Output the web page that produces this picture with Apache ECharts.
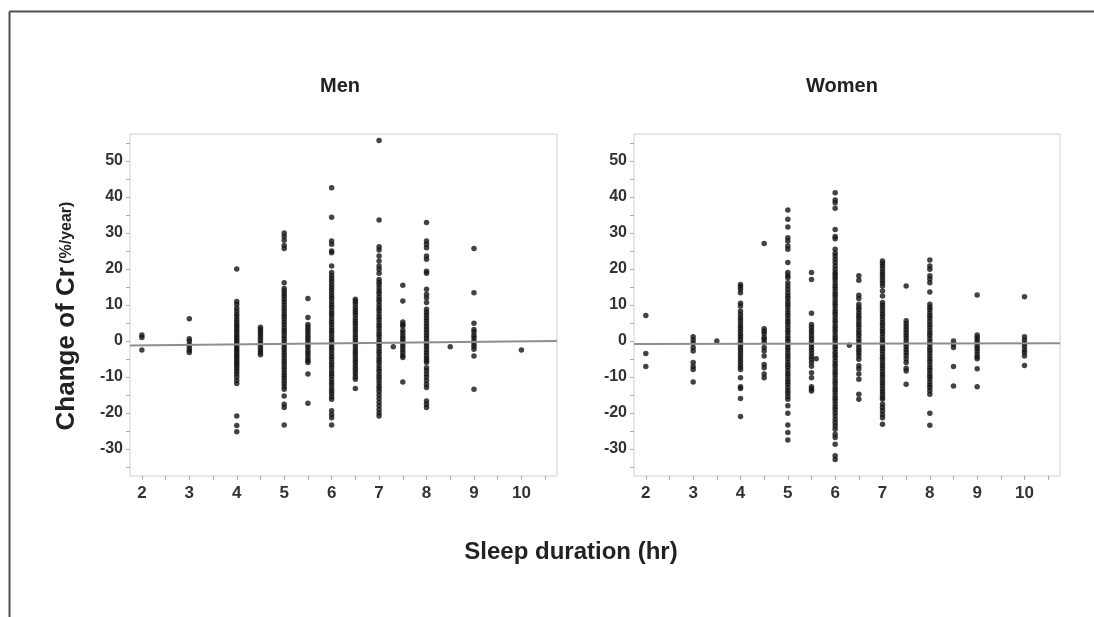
<!DOCTYPE html>
<html>
<head>
<meta charset="utf-8">
<script src="https://cdn.jsdelivr.net/npm/echarts@6/dist/echarts.min.js"></script>
<style>
html, body { margin: 0; padding: 0; background: #fff; }
#chart { width: 1094px; height: 617px; }
</style>
</head>
<body>
<div id="chart"></div>
<script>
// tick labels
let xLabelValues = [2, 3, 4, 5, 6, 7, 8, 9, 10];
let xTickValues = [2, 2.5, 3, 3.5, 4, 4.5, 5, 5.5, 6, 6.5, 7, 7.5, 8, 8.5, 9, 9.5, 10, 10.5];
let yLabelValues = [-30, -20, -10, 0, 10, 20, 30, 40, 50];
let yTickValues = [-35, -30, -25, -20, -15, -10, -5, 0, 5, 10, 15, 20, 25, 30, 35, 40, 45, 50, 55];

// Men: sleep hours and the Cr changes read in each column
let menHours = [2, 3, 4, 4.5, 5, 5.5, 6, 6.5, 7, 7.3, 7.5, 8, 8.5, 9, 10];
let menChange = [
    [1.7, 1.0, -2.5],
    [6.2, 0.6, 0, -1, -1.8, -2.6, -3.2],
    [20, 11, 10.2, 9.2, 8.3, 7.5, 6.8, 6, 5.3, 4.6, 4, 3.3, 2.7, 2, 1.4, 0.8, 0.2, -0.4, -1, -1.6, -2.2, -2.8, -3.4, -4, -4.6, -5.2, -5.8, -6.4, -7, -7.7, -8.4, -9.2, -10, -11, -11.8, -20.8, -23.5, -25.2],
    [3.8, 3.2, 2.6, 1.9, 1.2, 0.5, -0.3, -1, -1.8, -2.5, -3.2, -3.8],
    [30, 29, 28, 26.5, 25.7, 16.2, 14.6, 13.9, 13.1, 12.4, 11.6, 10.8, 10, 9.2, 8.4, 7.6, 6.9, 6.1, 5.3, 4.5, 3.7, 2.9, 2.2, 1.4, 0.6, -0.2, -1, -1.8, -2.5, -3.3, -4.1, -4.9, -5.7, -6.4, -7.2, -8, -8.8, -9.6, -10.3, -11.1, -11.9, -12.7, -13.4, -15.3, -17.6, -18.5, -23.3],
    [11.8, 6.5, 4.6, 3.9, 3.2, 2.4, 1.7, 1, 0.3, -0.5, -1.2, -1.9, -2.7, -3.4, -4.1, -4.9, -5.5, -6, -9.2, -17.3],
    [42.6, 34.4, 27.8, 26.9, 25, 24.5, 20.8, 19, 18.1, 17.3, 16.6, 15.7, 14.9, 14.2, 13.3, 12.5, 11.8, 10.9, 10.1, 9.4, 8.5, 7.7, 7, 6.1, 5.3, 4.6, 3.7, 2.9, 2.2, 1.3, 0.5, -0.2, -1.1, -1.9, -2.6, -3.5, -4.3, -5, -5.9, -6.7, -7.4, -8.3, -9.1, -9.8, -10.7, -11.5, -12.2, -13.1, -13.9, -14.6, -15.5, -16.2, -19.4, -20.4, -21.3, -23.3],
    [11.6, 11, 10.3, 9.4, 8.6, 7.9, 7.2, 6.3, 5.5, 4.8, 4, 3.2, 2.5, 1.7, 0.9, 0.1, -0.6, -1.4, -2.2, -3, -3.7, -4.5, -5.3, -6, -6.8, -7.6, -8.3, -9.1, -9.9, -10.6, -13.2],
    [55.7, 33.6, 26.2, 25.3, 23.6, 22.2, 20.8, 19.9, 18.8, 17.1, 16.3, 15.6, 14.7, 13.9, 13.2, 12.3, 11.5, 10.8, 9.9, 9.1, 8.4, 7.5, 6.7, 6, 5.1, 4.3, 3.6, 2.7, 1.9, 1.2, 0.3, -0.5, -1.2, -2.1, -2.9, -3.6, -4.5, -5.3, -6, -6.9, -7.7, -8.4, -9.3, -10.1, -10.8, -11.7, -12.5, -13.2, -14, -15, -16, -17, -18, -19, -20, -20.8],
    [-1.6],
    [15.5, 11.1, 5.3, 4.6, 4.2, 3, 2.2, 1.4, 0.7, 0, -0.8, -1.6, -2.4, -3.2, -4, -4.6, -11.4],
    [32.9, 27.8, 26.9, 25.9, 23.6, 22.7, 19.4, 18.8, 14.4, 13, 12, 10.7, 8.8, 8, 7.2, 6.4, 5.6, 4.8, 4, 3.2, 2.4, 1.6, 0.8, 0, -0.8, -1.6, -2.4, -3.2, -4, -4.8, -5.4, -6, -7.4, -8.2, -9.2, -10, -11, -12, -12.9, -16.7, -17.6, -18.5],
    [-1.6],
    [25.7, 13.4, 4.9, 3.2, 2.5, 1.5, 0.8, 0, -0.8, -1.5, -2.3, -4.2, -13.4],
    [-2.5]
];
let menFitHours = [1.75, 10.75];
let menFitChange = [-1.25, 0];

// Women
let womenHours = [2, 3, 3.5, 4, 4.5, 5, 5.5, 5.6, 6, 6.3, 6.5, 7, 7.5, 8, 8.5, 9, 10];
let womenChange = [
    [7.1, -3.5, -7.1],
    [1.2, 0.3, -0.6, -1.8, -2.8, -6, -7.1, -7.9, -11.4],
    [0],
    [15.7, 15.1, 14.4, 13.4, 10.5, 9.7, 8.3, 7.4, 6.5, 5.8, 5, 4.2, 3.5, 2.7, 1.9, 1.2, 0.4, -0.4, -1.1, -1.9, -2.6, -3.4, -4.2, -4.9, -5.7, -6.5, -7.2, -7.9, -10.2, -12.7, -13.2, -16, -21],
    [27.1, 3.4, 2.7, 2, 1, 0.4, -0.4, -1.8, -2.8, -4.2, -6.5, -7.4, -9.2, -10.2],
    [36.4, 33.8, 31.7, 28.7, 27.8, 26.4, 25.5, 21.8, 19, 18.2, 17.6, 16.2, 15.3, 14.4, 13.4, 12.6, 11.9, 11, 10.2, 9.5, 8.6, 7.8, 7.1, 6.2, 5.4, 4.7, 3.8, 3, 2.3, 1.4, 0.6, -0.1, -1, -1.8, -2.5, -3.4, -4.2, -4.9, -5.8, -6.6, -7.3, -8.2, -9, -9.7, -10.6, -11.4, -12.1, -13, -13.8, -14.5, -15.4, -16.2, -18, -20.1, -23.3, -25.4, -27.5],
    [19, 17.1, 7.7, 4.6, 3.8, 3, 2.2, 1.4, 0.6, -0.2, -1, -1.8, -2.6, -3.4, -4.3, -5.1, -6, -7, -8.8, -10.2, -12.7, -13.3, -13.9],
    [-4.9],
    [41.2, 39.2, 38.4, 36.9, 31, 29, 28.4, 25.5, 24.4, 23.6, 22.7, 21.8, 20.8, 19.9, 19, 18.5, 17.7, 17, 16.1, 15.3, 14.6, 13.7, 12.9, 12.2, 11.3, 10.5, 9.8, 8.9, 8.1, 7.4, 6.5, 5.7, 5, 4.1, 3.3, 2.6, 1.7, 0.9, 0.2, -0.7, -1.5, -2.2, -3.1, -3.9, -4.6, -5.5, -6.3, -7, -7.9, -8.7, -9.4, -10.3, -11.1, -11.8, -12.7, -13.5, -14.2, -15.1, -15.9, -16.6, -17.5, -18.3, -19, -19.9, -20.8, -21.8, -22.7, -23.6, -24.5, -25.9, -26.8, -28.7, -31.9, -32.9],
    [-1.2],
    [18.1, 16.9, 12.7, 11.8, 10.2, 9.4, 8.7, 7.8, 7, 6.3, 5.4, 4.6, 3.9, 3, 2.2, 1.5, 0.6, -0.2, -0.9, -1.8, -2.6, -3.3, -4.2, -5.1, -6.9, -7.8, -9.2, -10.6, -14.8, -16.2],
    [22.2, 21.5, 20.8, 20, 19.2, 18.5, 17.7, 16.9, 16.1, 15.3, 13.9, 12.5, 10.7, 9.9, 9.2, 8.3, 7.5, 6.8, 5.9, 5.1, 4.4, 3.5, 2.7, 2, 1.1, 0.3, -0.4, -1.3, -2.1, -2.8, -3.7, -4.5, -5.2, -6.1, -6.9, -7.6, -8.5, -9.3, -10, -10.9, -11.7, -12.4, -13.3, -14.1, -14.8, -15.6, -16.2, -17.6, -18.5, -19.4, -20.4, -21.3, -23.1],
    [15.3, 5.6, 4.8, 4, 3.2, 2.4, 1.6, 0.8, 0, -0.8, -1.6, -2.4, -3.2, -4, -5, -6, -7.6, -8.3, -12],
    [22.5, 20.8, 19.9, 18.1, 17.2, 16.2, 13.6, 10.2, 9.4, 8.7, 7.8, 7, 6.3, 5.4, 4.6, 3.9, 3, 2.2, 1.5, 0.6, -0.2, -0.9, -1.8, -2.6, -3.3, -4.2, -5, -5.7, -6.6, -7.4, -8.1, -9, -9.8, -10.5, -11.4, -12.2, -12.9, -13.8, -14.8, -20.1, -23.4],
    [0, -0.9, -1.8, -7.1, -12.5],
    [12.8, 1.7, 1, 0.3, -0.5, -1.3, -2, -2.8, -3.6, -4.4, -4.9, -7.7, -12.7],
    [12.3, 1.2, 0.3, -0.7, -1.5, -2.5, -3.2, -4.2, -6.8]
];
let womenFitHours = [1.75, 10.75];
let womenFitChange = [-0.85, -0.65];

function toPoints(hours, changes) {
    let points = [];
    for(let i = 0; i < hours.length; i++) {
        for(let v of changes[i]) {
            points.push([hours[i], v]);
        }
    }
    return points;
}

function toLine(xs, ys) {
    return xs.map(function (x, i) { return [x, ys[i]]; });
}

const fontFamily = '"Liberation Sans", Arial, sans-serif';

function makeXAxis(gridIndex) {
    return {
        type: 'value',
        gridIndex: gridIndex,
        min: 1.75,
        max: 10.75,
        axisLine: { show: false, onZero: false },
        splitLine: { show: false },
        axisTick: {
            show: true,
            length: 4,
            customValues: xTickValues,
            lineStyle: { color: '#aaa' }
        },
        axisLabel: {
            customValues: xLabelValues,
            margin: 9,
            fontFamily: fontFamily,
            fontWeight: 'bold',
            fontSize: 17,
            color: '#333'
        }
    };
}

function makeYAxis(gridIndex) {
    return {
        type: 'value',
        gridIndex: gridIndex,
        min: -37.5,
        max: 57.5,
        axisLine: { show: false, onZero: false },
        splitLine: { show: false },
        axisTick: {
            show: true,
            length: 4,
            customValues: yTickValues,
            lineStyle: { color: '#aaa' }
        },
        axisLabel: {
            customValues: yLabelValues,
            margin: 7,
            fontFamily: fontFamily,
            fontWeight: 'bold',
            fontSize: 16,
            color: '#333'
        }
    };
}

function dotSeries(idx, data) {
    return {
        type: 'scatter',
        xAxisIndex: idx,
        yAxisIndex: idx,
        symbol: 'circle',
        symbolSize: 5.5,
        itemStyle: { color: '#141414' },
        silent: true,
        data: data
    };
}

function fitSeries(idx, data) {
    return {
        type: 'line',
        xAxisIndex: idx,
        yAxisIndex: idx,
        symbol: 'none',
        silent: true,
        z: 5,
        lineStyle: { color: '#8e8e8e', width: 2 },
        data: data
    };
}

let chart = echarts.init(document.getElementById('chart'));
chart.setOption({
    backgroundColor: '#fff',
    animation: false,
    title: [
        { text: 'Men', left: 335, top: 71, textAlign: 'center',
          textStyle: { fontFamily: fontFamily, fontWeight: 'bold', fontSize: 20, color: '#222' } },
        { text: 'Women', left: 837, top: 71, textAlign: 'center',
          textStyle: { fontFamily: fontFamily, fontWeight: 'bold', fontSize: 20, color: '#222' } }
    ],
    grid: [
        { left: 130, top: 134, width: 427, height: 342, show: true, borderColor: '#d0d0d0', borderWidth: 1 },
        { left: 634, top: 134, width: 426, height: 342, show: true, borderColor: '#d0d0d0', borderWidth: 1 }
    ],
    xAxis: [makeXAxis(0), makeXAxis(1)],
    yAxis: [makeYAxis(0), makeYAxis(1)],
    series: [
        dotSeries(0, toPoints(menHours, menChange)),
        fitSeries(0, toLine(menFitHours, menFitChange)),
        dotSeries(1, toPoints(womenHours, womenChange)),
        fitSeries(1, toLine(womenFitHours, womenFitChange))
    ],
    graphic: [
        // cropped figure border (top and left only)
        { type: 'line', shape: { x1: 9.5, y1: 11.5, x2: 1094, y2: 11.5 }, style: { stroke: '#505050', lineWidth: 2 } },
        { type: 'line', shape: { x1: 9.5, y1: 11.5, x2: 9.5, y2: 617 }, style: { stroke: '#505050', lineWidth: 2 } },
        {
            type: 'text',
            x: 67,
            y: 316,
            rotation: Math.PI / 2,
            style: {
                text: '{a|Change of Cr} {b|(%/year)}',
                align: 'center',
                verticalAlign: 'middle',
                rich: {
                    a: { fontFamily: fontFamily, fontWeight: 'bold', fontSize: 26, fill: '#222' },
                    b: { fontFamily: fontFamily, fontWeight: 'bold', fontSize: 16, fill: '#222' }
                }
            }
        },
        {
            type: 'text',
            x: 571,
            y: 552,
            style: {
                text: 'Sleep duration (hr)',
                align: 'center',
                verticalAlign: 'middle',
                fontFamily: fontFamily,
                fontWeight: 'bold',
                fontSize: 24,
                fill: '#222'
            }
        }
    ]
});
</script>
</body>
</html>
